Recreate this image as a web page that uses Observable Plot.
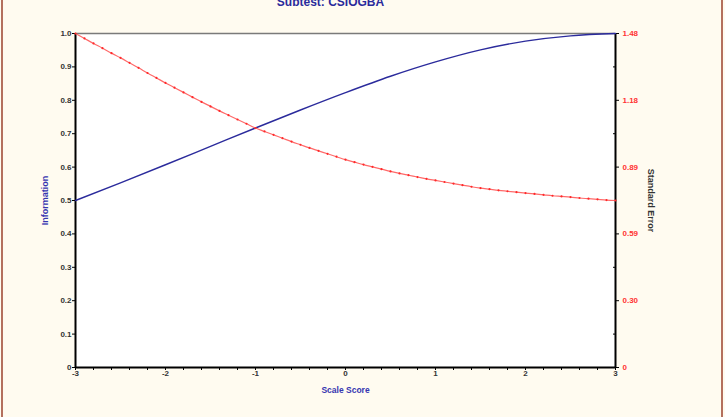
<!DOCTYPE html>
<html>
<head>
<meta charset="utf-8">
<script src="https://cdn.jsdelivr.net/npm/d3@7"></script>
<script src="https://cdn.jsdelivr.net/npm/@observablehq/plot@0.6"></script>
<style>
  html, body { margin: 0; padding: 0; background: #fffbf0; }
  #wrap { position: relative; width: 725px; height: 417px; overflow: hidden; background: #fffbf0; }
  .edge { position: absolute; top: 0; width: 2px; height: 417px; background: #b4705e; }
</style>
</head>
<body>
<div id="wrap">
  <div class="edge" style="left:1px"></div>
  <div class="edge" style="left:721px"></div>
</div>
<script>
// ---- data ----
const titleText = "Subtest: CSIOGBA";
const xLabel = "Scale Score";
const infoLabel = "Information";
const seLabel = "Standard Error";

// Information curve (left axis)
const infoScore = [-3, -2.5, -2, -1.5, -1, -0.5, 0, 0.5, 1, 1.5, 2, 2.5, 3];
const infoValue = [0.500, 0.553, 0.607, 0.662, 0.717, 0.771, 0.823, 0.872, 0.915, 0.951, 0.977, 0.993, 1.000];

// Standard error curve (right axis), plotted with dot markers
const seScore = [
  -3.0, -2.9, -2.8, -2.7, -2.6, -2.5, -2.4, -2.3, -2.2, -2.1,
  -2.0, -1.9, -1.8, -1.7, -1.6, -1.5, -1.4, -1.3, -1.2, -1.1,
  -1.0, -0.9, -0.8, -0.7, -0.6, -0.5, -0.4, -0.3, -0.2, -0.1,
   0.0,  0.1,  0.2,  0.3,  0.4,  0.5,  0.6,  0.7,  0.8,  0.9,
   1.0,  1.1,  1.2,  1.3,  1.4,  1.5,  1.6,  1.7,  1.8,  1.9,
   2.0,  2.1,  2.2,  2.3,  2.4,  2.5,  2.6,  2.7,  2.8,  2.9, 3.0
];
const seValue = [
  1.480, 1.458, 1.436, 1.415, 1.393, 1.372, 1.350, 1.328, 1.305, 1.283,
  1.261, 1.240, 1.219, 1.198, 1.177, 1.157, 1.137, 1.118, 1.099, 1.080,
  1.061, 1.046, 1.031, 1.016, 1.001, 0.987, 0.973, 0.960, 0.947, 0.934,
  0.921, 0.910, 0.899, 0.889, 0.879, 0.869, 0.860, 0.852, 0.844, 0.836,
  0.829, 0.822, 0.815, 0.808, 0.801, 0.795, 0.790, 0.785, 0.781, 0.777,
  0.773, 0.769, 0.765, 0.761, 0.758, 0.755, 0.751, 0.748, 0.745, 0.742, 0.740
];
const seMax = 1.48;

// tick labels
const xTicks = [-3, -2, -1, 0, 1, 2, 3];
const xTickLabels = ["-3", "-2", "-1", "0", "1", "2", "3"];
const xMinorTicks = [-2.8,-2.6,-2.4,-2.2,-1.8,-1.6,-1.4,-1.2,-0.8,-0.6,-0.4,-0.2,0.2,0.4,0.6,0.8,1.2,1.4,1.6,1.8,2.2,2.4,2.6,2.8];
const infoTicks = [0, 0.1, 0.2, 0.3, 0.4, 0.5, 0.6, 0.7, 0.8, 0.9, 1.0];
const infoTickLabels = ["0", "0.1", "0.2", "0.3", "0.4", "0.5", "0.6", "0.7", "0.8", "0.9", "1.0"];
const seTicks = [0, 0.296, 0.592, 0.888, 1.184, 1.48];
const seTickLabels = ["0", "0.30", "0.59", "0.89", "1.18", "1.48"];
const seMinorTicks = [0.148, 0.444, 0.740, 1.036, 1.332];

// ---- tables built from the arrays ----
const info = infoScore.map((x, i) => ({x, y: infoValue[i]}));
const se = seScore.map((x, i) => ({x, y: seValue[i] / seMax}));

const FONT = "'Liberation Sans', Arial, sans-serif";

const chart = Plot.plot({
  width: 725,
  height: 417,
  marginLeft: 75,
  marginRight: 110,
  marginTop: 33,
  marginBottom: 50,
  style: { background: "transparent", fontFamily: FONT, fontSize: "8px", fontWeight: "bold", color: "#333" },
  x: { domain: [-3, 3] },
  y: { domain: [0, 1] },
  marks: [
    Plot.frame({ fill: "white", stroke: "none" }),
    // left axis
    Plot.axisY({ anchor: "left", ticks: infoTicks, tickSize: 3, tickPadding: 1,
      tickFormat: (d, i) => infoTickLabels[i], label: null, fill: "#333", stroke: "#000" }),
    // right axis: ticks black, labels red
    Plot.axisY({ anchor: "right", ticks: seTicks.map(v => v / seMax), tickSize: 3, text: null, label: null, stroke: "#000" }),
    Plot.axisY({ anchor: "right", ticks: seMinorTicks.map(v => v / seMax), tickSize: -3, text: null, label: null, stroke: "#000" }),
    Plot.axisY({ anchor: "right", ticks: seTicks.map(v => v / seMax), tickSize: 0, tickPadding: 7,
      tickFormat: (d, i) => seTickLabels[i], label: null, fill: "#ff3333" }),
    // bottom axis
    Plot.axisX({ anchor: "bottom", ticks: xTicks, tickSize: 3, tickPadding: 0,
      tickFormat: (d, i) => xTickLabels[i], label: null, fill: "#333", stroke: "#000" }),
    Plot.axisX({ anchor: "bottom", ticks: xMinorTicks, tickSize: 3, text: null, label: null, stroke: "#000" }),
    // frame lines
    Plot.ruleY([1], { stroke: "#7a7a7a", strokeWidth: 1.5 }),
    Plot.ruleX([-3, 3], { stroke: "#000", strokeWidth: 2 }),
    Plot.ruleY([0], { stroke: "#000", strokeWidth: 2 }),
    // series
    Plot.line(info, { x: "x", y: "y", stroke: "#2b2b9c", strokeWidth: 1.4, curve: "monotone-x" }),
    Plot.line(se, { x: "x", y: "y", stroke: "#ff6a6a", strokeWidth: 1.2, curve: "monotone-x" }),
    Plot.dot(se, { x: "x", y: "y", r: 1.1, fill: "#ff2a2a", stroke: "none" }),
    // titles
    Plot.text([titleText], { frameAnchor: "top", dy: -28, dx: -15, lineAnchor: "bottom",
      fill: "#2b2b9c", fontSize: 12, fontWeight: "bold" }),
    Plot.text([infoLabel], { frameAnchor: "left", dx: -30, rotate: -90, textAnchor: "middle",
      fill: "#3636b0", fontSize: 9, fontWeight: "bold" }),
    Plot.text([seLabel], { frameAnchor: "right", dx: 35, rotate: 90, textAnchor: "middle",
      fill: "#333", fontSize: 9, fontWeight: "bold" }),
    Plot.text([xLabel], { frameAnchor: "bottom", dy: 25, fill: "#3636b0", fontSize: 8.5, fontWeight: "bold" })
  ]
});
chart.style.position = "absolute";
chart.style.left = "0px";
chart.style.top = "0px";
document.getElementById("wrap").appendChild(chart);
</script>
</body>
</html>
